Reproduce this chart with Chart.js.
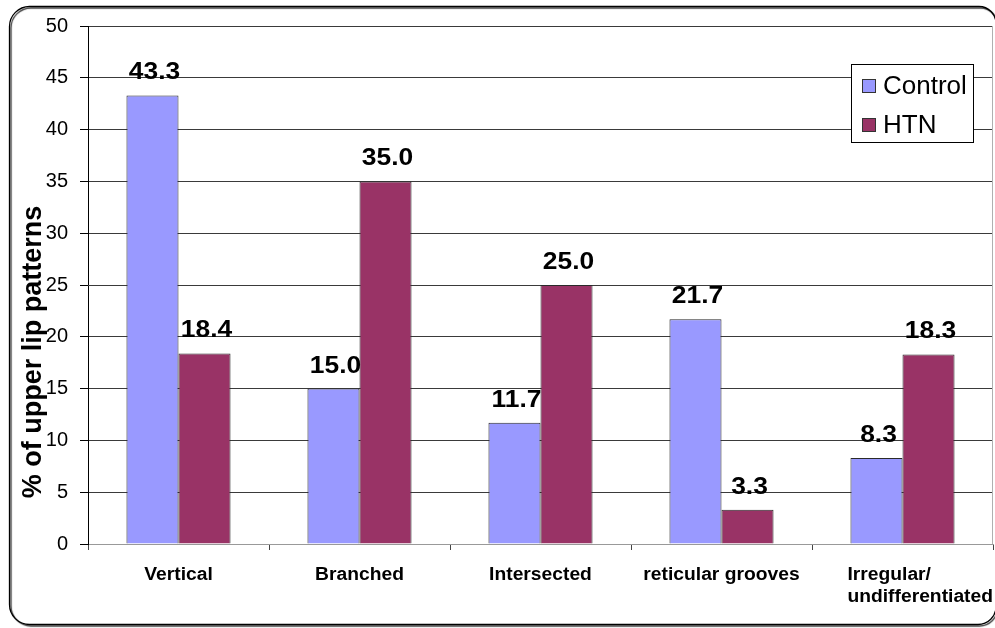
<!DOCTYPE html>
<html>
<head>
<meta charset="utf-8">
<script src="https://cdn.jsdelivr.net/npm/chart.js@4/dist/chart.umd.min.js"></script>
<style>
  html, body { margin: 0; padding: 0; background: #fff; overflow: hidden; }
  canvas { display: block; }
</style>
</head>
<body>
<canvas id="chart" width="995" height="628"></canvas>
<script>
// Lip pattern distribution, control vs hypertensive group
const categories = [['Vertical'], ['Branched'], ['Intersected'], ['reticular grooves'], ['Irregular/', 'undifferentiated']];
const seriesNames = ['Control', 'HTN'];
const controlValues = [43.3, 15.0, 11.7, 21.7, 8.3];
const htnValues = [18.4, 35.0, 25.0, 3.3, 18.3];
const yTickValues = [0, 5, 10, 15, 20, 25, 30, 35, 40, 45, 50];
const yTitle = '% of upper lip patterns';

const FONT = '"Liberation Sans", Arial, Helvetica, sans-serif';
const CONTROL_COLOR = '#9999FF';
const HTN_COLOR = '#993366';

// Rounded outer frame with a light drop shadow
const framePlugin = {
  id: 'frame',
  beforeDraw(chart) {
    const ctx = chart.ctx;
    ctx.save();
    ctx.fillStyle = '#fff';
    ctx.fillRect(0, 0, chart.width, chart.height);
    ctx.beginPath();
    ctx.roundRect(9.5, 6.5, 986.5, 618, [20, 17, 18, 20]);
    ctx.shadowColor = 'rgba(0,0,0,0.8)';
    ctx.shadowOffsetX = 1.5;
    ctx.shadowOffsetY = 1.5;
    ctx.shadowBlur = 1;
    ctx.lineWidth = 1.3;
    ctx.strokeStyle = '#000';
    ctx.stroke();
    ctx.restore();
  }
};

function stretchedText(ctx, text, x, y, sx, align) {
  ctx.save();
  ctx.translate(x, y);
  ctx.scale(sx, 1);
  ctx.textAlign = align;
  ctx.fillText(text, 0, 0);
  ctx.restore();
}

// Value labels above bars
const valueLabelPlugin = {
  id: 'valueLabels',
  afterDatasetsDraw(chart) {
    const ctx = chart.ctx;
    ctx.save();
    ctx.font = 'bold 24px ' + FONT;
    ctx.fillStyle = '#000';
    ctx.textBaseline = 'alphabetic';
    chart.data.datasets.forEach((ds, di) => {
      const meta = chart.getDatasetMeta(di);
      meta.data.forEach((bar, i) => {
        stretchedText(ctx, ds.data[i].toFixed(1), bar.x + 2, bar.y - 16, 1.1, 'center');
      });
    });
    ctx.restore();
  }
};

// Category labels, axis title, plot edge and legend box
const overlayPlugin = {
  id: 'overlay',
  afterDraw(chart) {
    const ctx = chart.ctx;
    const area = chart.chartArea;
    const xs = chart.scales.x;
    ctx.save();

    // right edge of the plot area
    ctx.strokeStyle = '#b0b0b0';
    ctx.lineWidth = 1;
    ctx.beginPath();
    ctx.moveTo(Math.round(area.right) - 0.5, area.top);
    ctx.lineTo(Math.round(area.right) - 0.5, area.bottom);
    ctx.stroke();

    // category labels; the two-line label is pushed against the right edge
    ctx.fillStyle = '#000';
    ctx.font = 'bold 18px ' + FONT;
    ctx.textBaseline = 'alphabetic';
    const sx = 1.07;
    const base = area.bottom + 36;
    const lineGap = 22;
    categories.forEach((lines, i) => {
      const cx = xs.getPixelForValue(i);
      if (lines.length > 1) {
        const w = Math.max(...lines.map(t => ctx.measureText(t).width)) * sx;
        const left = area.right - w;
        lines.forEach((t, k) => stretchedText(ctx, t, left, base + k * lineGap, sx, 'left'));
      } else {
        stretchedText(ctx, lines[0], cx, base, sx, 'center');
      }
    });

    // y axis title
    ctx.save();
    ctx.font = 'bold 27px ' + FONT;
    ctx.translate(41, 352);
    ctx.rotate(-Math.PI / 2);
    ctx.textAlign = 'center';
    ctx.textBaseline = 'alphabetic';
    ctx.fillText(yTitle, 0, 0);
    ctx.restore();

    // legend
    const lx = 851.5, ly = 64.5, lw = 122, lh = 78;
    ctx.fillStyle = '#fff';
    ctx.fillRect(lx, ly, lw, lh);
    ctx.strokeStyle = '#000';
    ctx.lineWidth = 1;
    ctx.strokeRect(lx, ly, lw, lh);
    ctx.font = '26px ' + FONT;
    ctx.textAlign = 'left';
    ctx.textBaseline = 'middle';
    const rows = [86, 125];
    chart.data.datasets.forEach((ds, di) => {
      const ry = rows[di];
      ctx.fillStyle = ds.backgroundColor;
      ctx.fillRect(862.5, ry - 6.5, 13, 13);
      ctx.strokeStyle = '#333';
      ctx.strokeRect(862.5, ry - 6.5, 13, 13);
      ctx.fillStyle = '#000';
      ctx.fillText(ds.label, 883, ry + 1);
    });

    ctx.restore();
  }
};

new Chart(document.getElementById('chart'), {
  type: 'bar',
  data: {
    labels: categories,
    datasets: [
      {
        label: seriesNames[0],
        data: controlValues,
        backgroundColor: CONTROL_COLOR,
        borderColor: '#2a2a2a',
        borderWidth: 1,
        barPercentage: 1,
        categoryPercentage: 0.575
      },
      {
        label: seriesNames[1],
        data: htnValues,
        backgroundColor: HTN_COLOR,
        borderColor: '#2a2a2a',
        borderWidth: 1,
        barPercentage: 1,
        categoryPercentage: 0.575
      }
    ]
  },
  options: {
    responsive: false,
    animation: false,
    devicePixelRatio: 1,
    events: [],
    layout: { padding: { top: 26, right: 2, bottom: 0, left: 0 } },
    plugins: {
      legend: { display: false },
      tooltip: { enabled: false },
      title: { display: false }
    },
    scales: {
      x: {
        grid: {
          display: true,
          drawOnChartArea: false,
          drawTicks: true,
          tickLength: 6,
          offset: true,
          tickColor: '#444'
        },
        border: { display: true, color: '#999', width: 1 },
        ticks: { display: false },
        afterFit(scale) { scale.height = 84; }
      },
      y: {
        min: 0,
        max: 50,
        afterBuildTicks(scale) { scale.ticks = yTickValues.map(v => ({ value: v })); },
        ticks: {
          color: '#000',
          font: { family: FONT, size: 20 },
          padding: 12
        },
        grid: {
          color: c => (c.tick && c.tick.value === 0) ? 'rgba(0,0,0,0)' : '#3a3a3a',
          tickColor: '#000',
          tickLength: 8,
          lineWidth: 1
        },
        border: { display: true, color: '#000', width: 1 },
        afterFit(scale) { scale.width = 88; }
      }
    }
  },
  plugins: [framePlugin, valueLabelPlugin, overlayPlugin]
});
</script>
</body>
</html>
